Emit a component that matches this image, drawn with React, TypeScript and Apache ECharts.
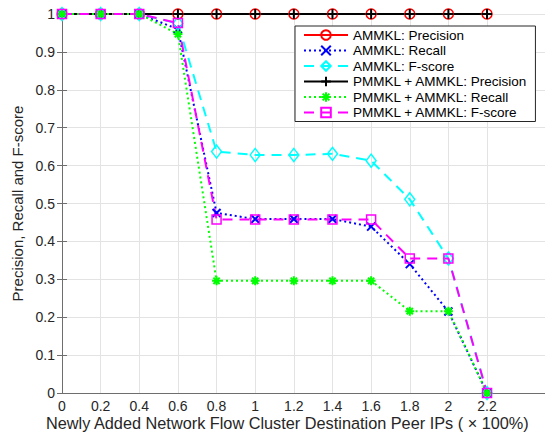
import React, { useEffect, useRef } from "react";
import * as echarts from "echarts";

const xValues = [0, 0.2, 0.4, 0.6, 0.8, 1, 1.2, 1.4, 1.6, 1.8, 2, 2.2];
const xTickValues = [0, 0.2, 0.4, 0.6, 0.8, 1, 1.2, 1.4, 1.6, 1.8, 2, 2.2];
const ammklPrecision = [1, 1, 1, 1, 1, 1, 1, 1, 1, 1, 1, 1];
const ammklRecall = [1, 1, 1, 0.96, 0.475, 0.459, 0.459, 0.459, 0.439, 0.34, 0.215, 0];
const ammklFscore = [1, 1, 1, 0.975, 0.637, 0.628, 0.628, 0.631, 0.613, 0.511, 0.355, 0];
const pmmklPrecision = [1, 1, 1, 1, 1, 1, 1, 1, 1, 1, 1, 1];
const pmmklRecall = [1, 1, 1, 0.947, 0.296, 0.296, 0.296, 0.296, 0.296, 0.216, 0.216, 0];
const pmmklFscore = [1, 1, 1, 0.976, 0.458, 0.458, 0.458, 0.458, 0.458, 0.355, 0.355, 0];
const seriesNames = [
  "AMMKL: Precision",
  "AMMKL: Recall",
  "AMMKL: F-score",
  "PMMKL + AMMKL: Precision",
  "PMMKL + AMMKL: Recall",
  "PMMKL + AMMKL: F-score",
];

const FONT = "Liberation Sans, Arial, Helvetica, sans-serif";
const AXIS_COLOR = "#6e6e6e";
const TEXT_COLOR = "#262626";
const GRID_COLOR = "#e3e3e3";

const X_SYMBOL = "path://M0 0L10 10M10 0L0 10";
const PLUS_SYMBOL = "path://M5 0L5 10M0 5L10 5";
const STAR_SYMBOL = "path://M5 0L5 10M0 5L10 5M1.5 1.5L8.5 8.5M8.5 1.5L1.5 8.5";

function makeSeries(
  name: string,
  values: number[],
  color: string,
  lineType: any,
  symbol: string,
  symbolSize: any,
  borderWidth: number
) {
  return {
    name,
    type: "line",
    data: xValues.map((x, i) => [x, values[i]]),
    symbol,
    symbolSize,
    showSymbol: true,
    z: 3,
    lineStyle: { color, width: 2, type: lineType },
    itemStyle: { color: "rgba(255,255,255,0)", borderColor: color, borderWidth },
    emphasis: { disabled: true },
  };
}

export default function App() {
  const ref = useRef<HTMLDivElement>(null);
  useEffect(() => {
    if (!ref.current) return;
    const chart = echarts.init(ref.current, null, { renderer: "svg" });
    const option: any = {
      animation: false,
      backgroundColor: "#ffffff",
      textStyle: { fontFamily: FONT },
      grid: { left: 62, right: 0, top: 14, bottom: 45, containLabel: false },
      legend: {
        orient: "vertical",
        left: 295,
        top: 26,
        z: 10,
        data: seriesNames,
        itemWidth: 44,
        itemHeight: 12,
        itemGap: 1.5,
        padding: [2, 8, 2, 8],
        backgroundColor: "#ffffff",
        borderColor: "#262626",
        borderWidth: 1,
        borderRadius: 0,
        textStyle: { fontSize: 13.5, fontFamily: FONT, color: "#000", lineHeight: 14 },
      },
      xAxis: [
        {
          type: "value",
          min: 0,
          max: 2.5,
          interval: 0.2,
          axisLine: { show: true, lineStyle: { color: AXIS_COLOR, width: 1 } },
          axisTick: {
            show: true,
            inside: true,
            length: 5,
            customValues: xTickValues,
            lineStyle: { color: AXIS_COLOR },
          },
          axisLabel: {
            customValues: xTickValues,
            fontSize: 14,
            color: TEXT_COLOR,
            fontFamily: FONT,
            margin: 6,
          },
          splitLine: { show: false },
        },
        {
          type: "value",
          position: "top",
          min: 0,
          max: 2.5,
          axisLine: { show: true, lineStyle: { color: AXIS_COLOR, width: 1 } },
          axisTick: { show: false },
          axisLabel: { show: false },
          splitLine: { show: false },
        },
      ],
      yAxis: [
        {
          type: "value",
          min: 0,
          max: 1,
          interval: 0.1,
          name: "Precision, Recall and F-score",
          nameLocation: "middle",
          nameGap: 33,
          nameTextStyle: { fontSize: 15, color: TEXT_COLOR, fontFamily: FONT },
          axisLine: { show: true, lineStyle: { color: AXIS_COLOR, width: 1 } },
          axisTick: { show: true, inside: true, length: 5, lineStyle: { color: AXIS_COLOR } },
          axisLabel: { fontSize: 14, color: TEXT_COLOR, fontFamily: FONT, margin: 7 },
          splitLine: { show: true, lineStyle: { color: GRID_COLOR, width: 1 } },
        },
        {
          type: "value",
          position: "right",
          min: 0,
          max: 1,
          interval: 0.1,
          axisLine: { show: true, lineStyle: { color: AXIS_COLOR, width: 1 } },
          axisTick: { show: true, inside: true, length: 5, lineStyle: { color: AXIS_COLOR } },
          axisLabel: { show: false },
          splitLine: { show: false },
        },
      ],
      graphic: [
        {
          type: "text",
          left: 46,
          top: 415,
          style: {
            text: "Newly Added Network Flow Cluster Destination Peer IPs ( × 100%)",
            fontSize: 16.3,
            fontFamily: FONT,
            fill: TEXT_COLOR,
          },
        },
      ],
      series: [
        {
          name: "grid",
          type: "line",
          data: [[0, -1]],
          showSymbol: false,
          silent: true,
          z: 1,
          lineStyle: { opacity: 0 },
          markLine: {
            silent: true,
            z: 1,
            symbol: ["none", "none"],
            label: { show: false },
            lineStyle: { color: GRID_COLOR, type: "solid", width: 1 },
            data: xTickValues.filter((v) => v > 0).map((v) => ({ xAxis: v })),
          },
        },
        makeSeries(seriesNames[0], ammklPrecision, "#ff0000", "solid", "circle", 10, 1.5),
        makeSeries(seriesNames[1], ammklRecall, "#0000ff", [2, 3], X_SYMBOL, 8, 2),
        makeSeries(seriesNames[2], ammklFscore, "#00ffff", [10, 7], "diamond", [10, 13], 1.5),
        makeSeries(seriesNames[3], pmmklPrecision, "#000000", "solid", PLUS_SYMBOL, 10, 2),
        makeSeries(seriesNames[4], pmmklRecall, "#00ff00", [2, 3], STAR_SYMBOL, 9, 2),
        makeSeries(seriesNames[5], pmmklFscore, "#ff00ff", [10, 7], "rect", 9, 1.5),
      ],
    };
    chart.setOption(option);
    return () => chart.dispose();
  }, []);
  return (
    <div
      ref={ref}
      style={{ position: "absolute", left: 0, top: 0, width: 545, height: 438 }}
    />
  );
}
